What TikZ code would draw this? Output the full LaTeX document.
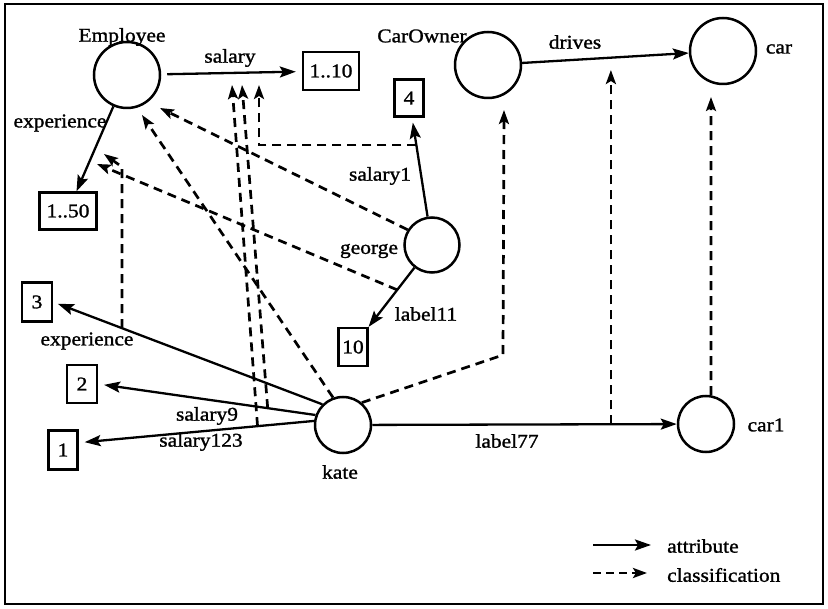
\documentclass[tikz,border=0pt]{standalone}
\usepackage{fontspec}
\setmainfont{Liberation Serif}[FakeStretch=1.1,FakeBold=1.3]
\usetikzlibrary{arrows.meta,calc}

\begin{document}
\begin{tikzpicture}[x=1pt,y=-1pt,
  every node/.style={font=\fontsize{19.5}{22}\selectfont},
  ent/.style={circle,draw,line width=2.5pt,inner sep=0pt},
  valbox/.style={rectangle,draw,line width=2.3pt,inner sep=0pt,minimum height=38pt},
  attr/.style={line width=2.3pt,-{Stealth[length=16pt,width=11pt,inset=3pt]}},
  cls/.style={line width=2.7pt,dash pattern=on 9pt off 6pt,-{Stealth[length=14pt,width=10pt,inset=3pt]}},
  lbl/.style={inner sep=0pt}
]
\useasboundingbox (0,0) rectangle (828,609);
\draw[line width=2.6pt] (5,4) rectangle (823,604);

% classes and objects
\node[ent,minimum size=66pt] (emp) at (127,75) {};
\node[ent,minimum size=66pt] (co) at (488,65) {};
\node[ent,minimum size=66pt] (car) at (723,51) {};
\node[ent,minimum size=55pt] (george) at (432,245) {};
\node[ent,minimum size=56pt] (kate) at (343,425) {};
\node[ent,minimum size=56pt] (car1) at (706,424) {};

\node[lbl] (tEmp) at (122,37) {Employee};
\node[lbl] (tCo) at (422,36) {CarOwner};
\node[lbl] (tCar) at (779,49) {car};
\node[lbl] (tGeorge) at (369,251) {george};
\node[lbl] (tKate) at (340,472) {kate};
\node[lbl] (tCar1) at (766,425) {car1};

% values
\node[valbox,minimum width=56pt] (b110) at (331,71) {1..10};
\node[valbox,minimum width=57pt,minimum height=37pt] (b150) at (68,211) {1..50};
\node[valbox,minimum width=29pt,minimum height=37pt] (b4) at (409,98) {4};
\node[valbox,minimum width=29pt] (b10) at (353,347) {10};
\node[valbox,minimum width=30pt,minimum height=39pt] (b3) at (37,302) {3};
\node[valbox,minimum width=30pt] (b2) at (82,384) {2};
\node[valbox,minimum width=29pt,minimum height=39pt] (b1) at (63,450) {1};

% attribute links
\draw[attr,shorten <=6pt,shorten >=6pt] (emp) -- (b110);
\draw[attr] (emp) -- (b150);
\draw[attr] (co) -- (car);
\draw[attr,shorten >=5pt] (george) -- (b4);
\draw[attr] (george) -- (b10);
\draw[attr,shorten >=5pt] (kate.135) -- (b3.east);
\draw[attr,shorten >=6pt] (kate.160) -- (b2.east);
\draw[attr,shorten >=6pt] (kate.172) -- (b1.25);
\draw[attr] (kate) -- (car1);

% attribute labels
\node[lbl] (lSal) at (230,58) {salary};
\node[lbl] (lExpT) at (60,123) {experience};
\node[lbl] (lDrv) at (575,42) {drives};
\node[lbl] (lSal1) at (380,176) {salary1};
\node[lbl] (lL11) at (426,314) {label11};
\node[lbl] (lExpB) at (87,341) {experience};
\node[lbl] (lSal9) at (207,416) {salary9};
\node[lbl] (lSal123) at (201,442) {salary123};
\node[lbl] (lL77) at (507,441) {label77};

% points on attribute links where classifications start
\coordinate (sExp) at ($(kate.135)!0.744!(b3.east)$);
\coordinate (sS9) at ($(kate.160)!0.22!(b2.east)$);
\coordinate (sS123) at ($(kate.172)!0.24!(b1.25)$);
\coordinate (sS1) at ($(george)!0.68!(b4)$);
\coordinate (sL11) at ($(george)!0.44!(b10)$);
\coordinate (sL77) at ($(kate)!0.738!(car1)$);

% classification tips
\coordinate (tKE) at (142,115);
\coordinate (tGE) at (160,108);
\coordinate (tL11) at (97,164);
\coordinate (kExp) at (122,167);
\coordinate (tExp) at (104,154);
\coordinate (tS1) at (259,85);
\coordinate (tS9) at (242,85);
\coordinate (tS123) at (232,85);
\coordinate (kKC) at (503,355);
\coordinate (tKC) at (504,110);
\coordinate (tL77) at (611,70);
\coordinate (tCC) at (711,97);

% classification links
\draw[cls] (kate.110) -- (tKE);
\draw[cls] (george.148) -- (tGE);
\draw[cls] (sL11) -- (tL11);
\draw[cls] (sExp) -- (sExp |- kExp) -- (tExp);
\draw[cls] (sS1) -| (tS1);
\draw[cls] (sS9) -- (tS9);
\draw[cls] (sS123) -- (tS123);
\draw[cls] (kate.50) -- (kKC) -- (tKC);
\draw[cls] (sL77) -- (sL77 |- tL77);
\draw[cls] (car1.80) -- (tCC);

% legend
\coordinate (la0) at (593,545);
\coordinate (la1) at (651,545);
\coordinate (lc0) at (593,573);
\coordinate (lc1) at (647,573);
\draw[attr] (la0) -- (la1);
\draw[cls,dash pattern=on 8pt off 5pt] (lc0) -- (lc1);
\node[lbl,anchor=west] (lAttr) at (667,546) {attribute};
\node[lbl,anchor=west] (lCls) at (667,575) {classification};
\end{tikzpicture}
\end{document}
